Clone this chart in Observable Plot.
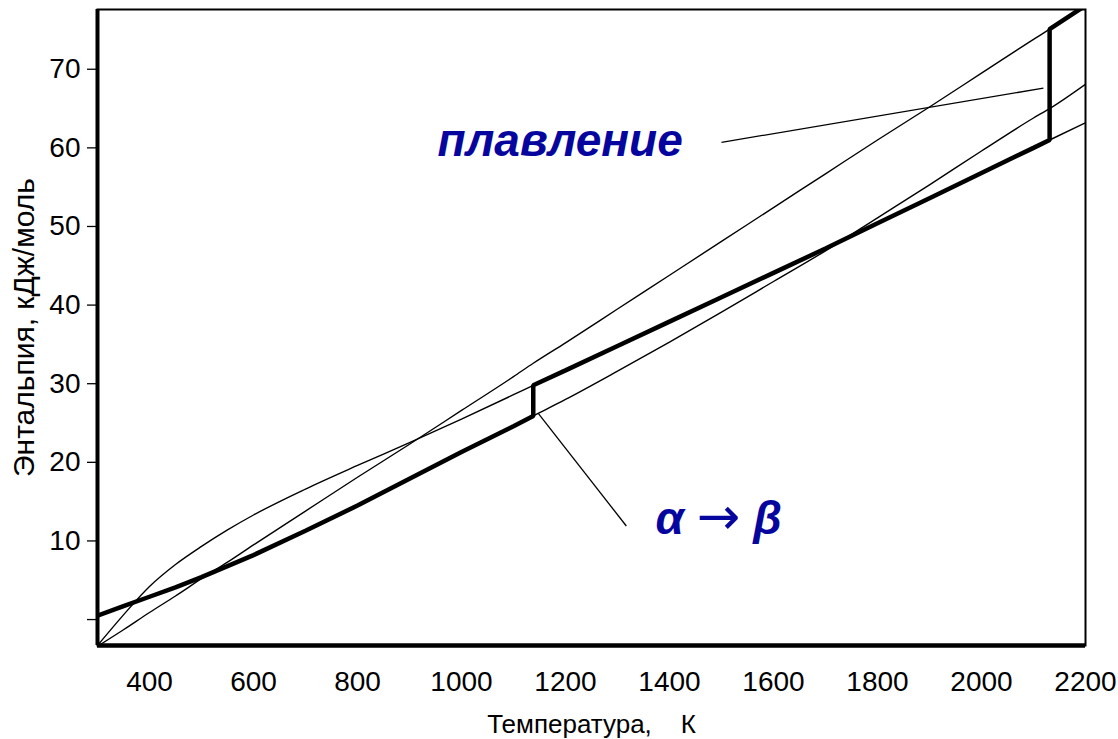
<!DOCTYPE html>
<html>
<head>
<meta charset="utf-8">
<script src="https://cdn.jsdelivr.net/npm/d3@7"></script>
<script src="https://cdn.jsdelivr.net/npm/@observablehq/plot@0.6"></script>
<style>
  html, body { margin: 0; padding: 0; background: #fff; }
  #chart svg { display: block; }
</style>
</head>
<body>
<div id="chart"></div>
<script>
// Temperature grid, K
const temps = [300, 350, 400, 450, 500, 550, 600, 700, 800, 900, 1000, 1100, 1138,
               1200, 1300, 1400, 1500, 1600, 1700, 1800, 1900, 2000, 2100, 2131, 2200];
// Enthalpy, kJ/mol — alpha-phase fit (extended over the whole range)
const hAlpha  = [0.5, 1.7, 2.9, 4.1, 5.4, 6.8, 8.2, 11.3, 14.5, 17.9, 21.3, 24.6, 25.9,
                 28.0, 31.6, 35.3, 39.1, 43.0, 46.9, 51.1, 55.3, 59.6, 63.8, 65.0, 68.1];
// beta-phase fit (extended over the whole range)
const hBeta   = [-3.3, 0.6, 4.2, 7.0, 9.3, 11.4, 13.3, 16.6, 19.6, 22.5, 25.5, 28.6, 29.8,
                 31.7, 34.8, 37.9, 41.0, 44.1, 47.2, 50.4, 53.6, 56.8, 60.0, 61.0, 63.2];
// liquid fit (extended over the whole range)
const hLiquid = [-3.4, -1.3, 0.9, 3.0, 5.2, 7.3, 9.5, 13.8, 18.1, 22.3, 26.6, 30.9, 32.6,
                 35.2, 39.5, 43.8, 48.1, 52.4, 56.7, 61.0, 65.2, 69.5, 73.8, 75.1, 78.1];
// transition temperatures, K
const tAlphaBeta = 1138;
const tMelt = 2131;

const xDomain = [300, 2200];
const yDomain = [-3.3, 77.6];
const xTicks = [400, 600, 800, 1000, 1200, 1400, 1600, 1800, 2000, 2200];
const yTicks = [0, 10, 20, 30, 40, 50, 60, 70];

// annotations
const labels = ["плавление", "α → β"];
const labelT = [954, 1373];
const labelH = [59.0, 10.9];
const leaderT1 = [1500, 1148];
const leaderH1 = [60.7, 26.2];
const leaderT2 = [2119, 1317];
const leaderH2 = [67.6, 11.9];

// ---- build tables ----
const fits = [
  ...temps.map((T, i) => ({T, H: hAlpha[i], phase: "alpha"})),
  ...temps.map((T, i) => ({T, H: hBeta[i], phase: "beta"})),
  ...temps.map((T, i) => ({T, H: hLiquid[i], phase: "liquid"}))
];
const actual = [
  ...temps.map((T, i) => ({T, H: hAlpha[i]})).filter(d => d.T <= tAlphaBeta),
  ...temps.map((T, i) => ({T, H: hBeta[i]})).filter(d => d.T >= tAlphaBeta && d.T <= tMelt),
  ...temps.map((T, i) => ({T, H: hLiquid[i]})).filter(d => d.T >= tMelt)
];
const notes = labels.map((text, i) => ({text, T: labelT[i], H: labelH[i]}));
const leaders = leaderT1.map((t, i) => ({x1: t, y1: leaderH1[i], x2: leaderT2[i], y2: leaderH2[i]}));

const chart = Plot.plot({
  width: 1118,
  height: 739,
  marginLeft: 97,
  marginRight: 33,
  marginTop: 9,
  marginBottom: 94,
  style: {fontFamily: "'Liberation Sans', Arial, sans-serif", background: "#fff", color: "#000"},
  x: {domain: xDomain},
  y: {domain: yDomain},
  marks: [
    Plot.line(fits, {x: "T", y: "H", z: "phase", stroke: "#000", strokeWidth: 1.4, curve: "monotone-x", clip: true}),
    Plot.line(actual, {x: "T", y: "H", stroke: "#000", strokeWidth: 4.5, strokeLinejoin: "miter", clip: true}),
    Plot.link(leaders, {x1: "x1", y1: "y1", x2: "x2", y2: "y2", stroke: "#000", strokeWidth: 1.3}),
    Plot.text(notes, {x: "T", y: "H", text: "text", textAnchor: "start", lineAnchor: "bottom",
      fill: "#06069e", fontSize: 46, fontWeight: "bold", fontStyle: "italic"}),
    Plot.frame({stroke: "#000", strokeWidth: 2}),
    Plot.ruleX([xDomain[0]], {stroke: "#000", strokeWidth: 4}),
    Plot.ruleY([yDomain[0]], {stroke: "#000", strokeWidth: 4.5}),
    Plot.axisX({ticks: xTicks, tickFormat: d => String(d), tickSize: 0, tickPadding: 26,
      fontSize: 28, label: "Температура,\u00a0\u00a0\u00a0\u00a0К", labelAnchor: "center", labelOffset: 87, labelArrow: "none"}),
    Plot.axisY({ticks: yTicks, tickFormat: d => d === 0 ? "" : String(d), tickSize: 10, tickPadding: 7,
      strokeWidth: 1.3, fontSize: 28, label: "Энтальпия, кДж/моль", labelAnchor: "center", labelOffset: 85, labelArrow: "none"})
  ]
});

// axis title sizes
d3.select(chart).selectAll('g[aria-label="x-axis label"]').attr("font-size", 26);
d3.select(chart).selectAll('g[aria-label="y-axis label"]').attr("font-size", 30);

// thinner, longer arrow inside the "α → β" note
d3.select(chart).selectAll("text").each(function () {
  const t = this.textContent;
  if (t.includes("→")) {
    const parts = t.split("→");
    const sel = d3.select(this);
    sel.text(null);
    sel.append("tspan").text(parts[0].replace(/ /g, "\u00a0"));
    sel.append("tspan").attr("font-family", "'DejaVu Sans', sans-serif")
      .attr("font-weight", "normal").attr("font-style", "normal").attr("font-size", 52).text("→");
    sel.append("tspan").text(parts[1].replace(/ /g, "\u00a0"));
  }
});

document.getElementById("chart").appendChild(chart);
</script>
</body>
</html>
